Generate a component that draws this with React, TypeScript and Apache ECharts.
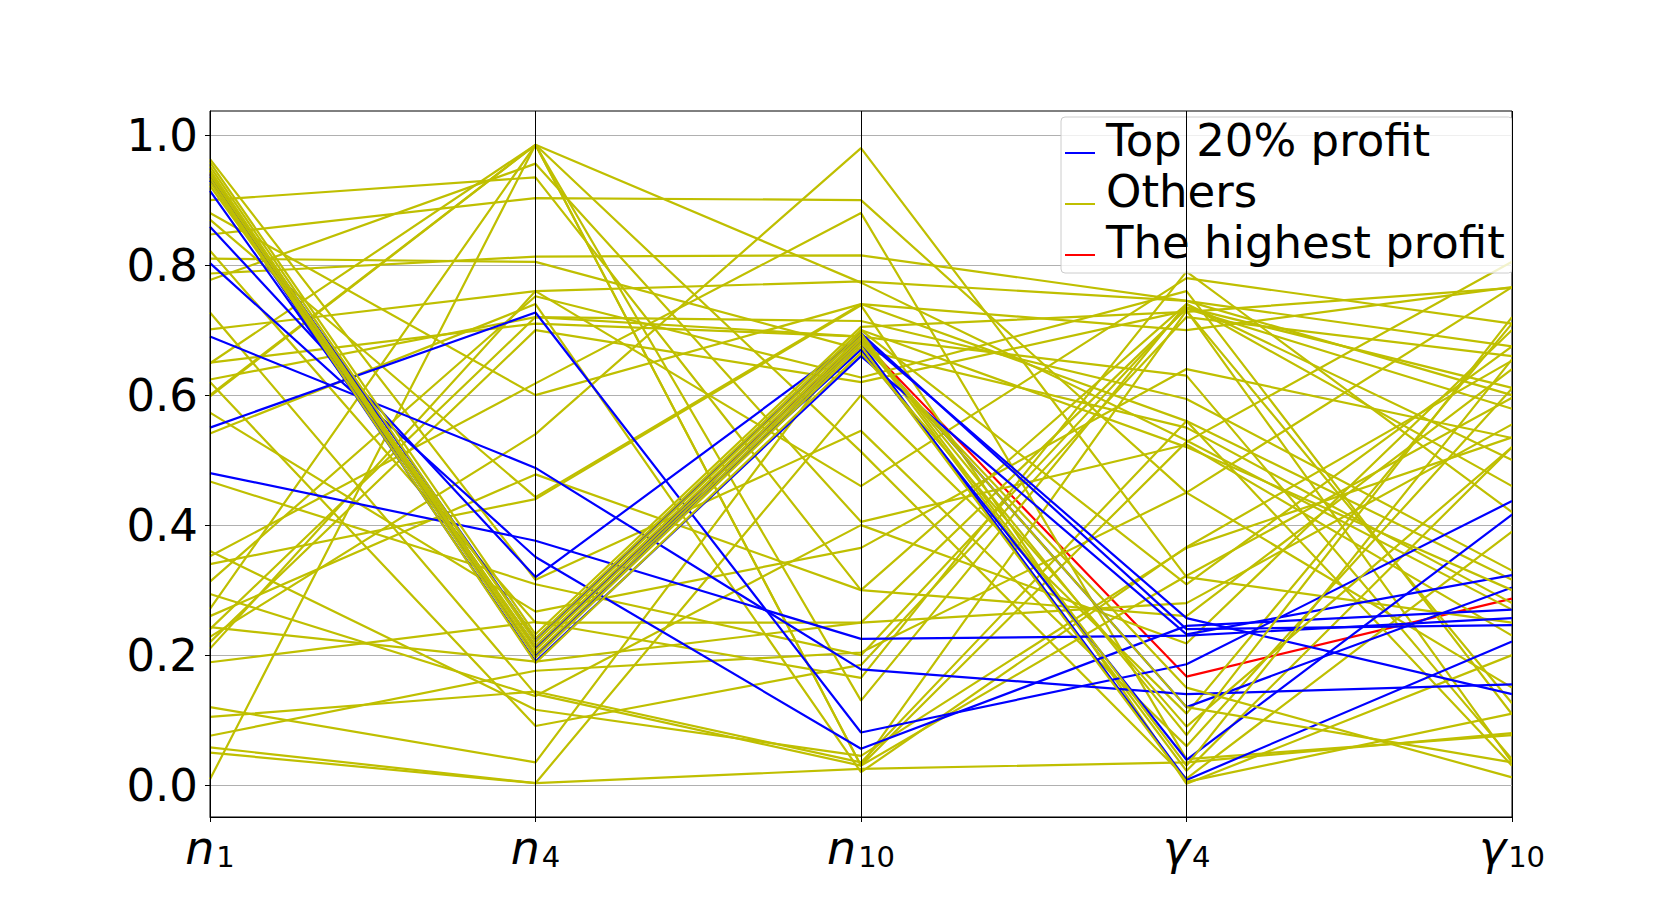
import { useEffect, useRef } from "react";
import * as echarts from "echarts";

const categories = ["n1", "n4", "n10", "g4", "g10"];
const yTicks = [0, 0.2, 0.4, 0.6, 0.8, 1.0];

// "Others" lines: values at each axis (same index = same line)
const otherN1 = [0.963, 0.9, 0.87, 0.847, 0.822, 0.787, 0.777, 0.727, 0.701, 0.649, 0.624, 0.598, 0.573, 0.541, 0.467, 0.352, 0.313, 0.294, 0.271, 0.243, 0.228, 0.22, 0.189, 0.12, 0.105, 0.076, 0.058, 0.009, 0.34, 0.26, 0.62, 0.65, 0.81, 0.6, 0.21, 0.36, 0.05, 0.88, 0.24];
const otherN4 = [0.316, 0.935, 0.443, 0.903, 0.25, 0.813, 0.956, 0.14, 0.76, 0.985, 0.72, 0.985, 0.267, 0.74, 0.309, 0.618, 0.752, 0.137, 0.985, 0.19, 0.54, 0.7, 0.251, 0.035, 0.144, 0.176, 0.003, 0.985, 0.44, 0.478, 0.091, 0.71, 0.805, 0.985, 0.76, 0.116, 0.003, 0.6, 0.72];
const otherN10 = [0.545, 0.3, 0.74, 0.9, 0.25, 0.815, 0.405, 0.03, 0.46, 0.03, 0.714, 0.513, 0.365, 0.02, 0.2, 0.88, 0.627, 0.4, 0.773, 0.25, 0.98, 0.62, 0.165, 0.7, 0.035, 0.204, 0.6, 0.03, 0.738, 0.3, 0.185, 0.69, 0.67, 0.13, 0.775, 0.045, 0.025, 0.74, 0.69];
const otherG4 = [0.06, 0.74, 0.56, 0.45, 0.733, 0.745, 0.524, 0.73, 0.78, 0.322, 0.594, 0.01, 0.64, 0.366, 0.735, 0.04, 0.76, 0.218, 0.53, 0.28, 0.32, 0.73, 0.79, 0.309, 0.56, 0.45, 0.11, 0.528, 0.002, 0.26, 0.72, 0.022, 0.55, 0.74, 0.745, 0.365, 0.035, 0.7, 0.63];
const otherG10 = [0.61, 0.5, 0.03, 0.766, 0.579, 0.675, 0.23, 0.126, 0.71, 0.596, 0.33, 0.39, 0.534, 0.653, 0.611, 0.077, 0.109, 0.7, 0.27, 0.555, 0.25, 0.035, 0.42, 0.675, 0.316, 0.15, 0.71, 0.805, 0.2, 0.64, 0.66, 0.52, 0.28, 0.46, 0.6, 0.535, 0.08, 0.766, 0.04];

// "Others" bundle running from n1 ~0.94 down to n4 ~0.2 and up to n10 ~0.68
const bundleN1 = [0.958, 0.952, 0.946, 0.94, 0.934, 0.928, 0.922, 0.945];
const bundleN4 = [0.232, 0.22, 0.208, 0.196, 0.188, 0.214, 0.226, 0.202];
const bundleN10 = [0.705, 0.695, 0.685, 0.675, 0.665, 0.69, 0.7, 0.68];
const bundleG4 = [0.728, 0.03, 0.12, 0.005, 0.09, 0.077, 0.52, 0.15];
const bundleG10 = [0.765, 0.655, 0.035, 0.11, 0.52, 0.72, 0.3, 0.012];

// "Top 20% profit" lines
const topN1 = [0.55, 0.69, 0.48, 0.803, 0.859, 0.914, 0.935, 0.94, 0.93, 0.94];
const topN4 = [0.727, 0.488, 0.376, 0.351, 0.32, 0.214, 0.2, 0.225, 0.19, 0.21];
const topN10 = [0.081, 0.178, 0.225, 0.056, 0.69, 0.67, 0.68, 0.695, 0.66, 0.685];
const topG4 = [0.186, 0.14, 0.23, 0.245, 0.257, 0.039, 0.008, 0.24, 0.232, 0.12];
const topG10 = [0.437, 0.155, 0.257, 0.27, 0.14, 0.416, 0.221, 0.246, 0.323, 0.304];

// "The highest profit" line
const bestLine = [0.94, 0.21, 0.685, 0.167, 0.287];

const YELLOW = "#bfbf00";
const BLUE = "#0000ff";
const RED = "#ff0000";
const FONT = "DejaVu Sans";

const axisNames: Record<string, string> = {
  n1: "{i|n}{s|1}",
  n4: "{i|n}{s|4}",
  n10: "{i|n}{s|10}",
  g4: "{i|\u03b3}{s|4}",
  g10: "{i|\u03b3}{s|10}",
};

function lineSeries(name: string, color: string, values: number[], z = 2) {
  return {
    type: "line",
    name,
    color,
    data: values,
    symbol: "none",
    silent: true,
    z,
    lineStyle: { color, width: 2.2 },
  };
}

export default function App() {
  const ref = useRef<HTMLDivElement>(null);

  useEffect(() => {
    if (!ref.current) return;
    const chart = echarts.init(ref.current, null, { renderer: "svg" });

    const series: any[] = [];
    series.push(lineSeries("The highest profit", RED, bestLine));
    otherN1.forEach((_, i) => {
      series.push(
        lineSeries("Others", YELLOW, [otherN1[i], otherN4[i], otherN10[i], otherG4[i], otherG10[i]])
      );
    });
    topN1.forEach((_, i) => {
      series.push(
        lineSeries("Top 20% profit", BLUE, [topN1[i], topN4[i], topN10[i], topG4[i], topG10[i]])
      );
    });
    bundleN1.forEach((_, i) => {
      series.push(
        lineSeries("Others", YELLOW, [bundleN1[i], bundleN4[i], bundleN10[i], bundleG4[i], bundleG10[i]])
      );
    });
    // black vertical axis lines drawn above the data lines
    series.push({
      type: "line",
      name: "axes",
      data: [],
      silent: true,
      z: 3,
      markLine: {
        silent: true,
        symbol: "none",
        label: { show: false },
        lineStyle: { color: "#000", width: 1, type: "solid" },
        data: categories.map((c) => ({ xAxis: c })),
      },
    });

    chart.setOption({
      animation: false,
      backgroundColor: "#ffffff",
      grid: {
        left: 210,
        right: 168,
        top: 111,
        bottom: 100,
        show: true,
        borderColor: "#000",
        borderWidth: 1,
        backgroundColor: "transparent",
      },
      legend: {
        data: ["Top 20% profit", "Others", "The highest profit"],
        orient: "vertical",
        left: 1061,
        top: 117,
        padding: [1, 7, 8, 4],
        itemGap: 6,
        itemWidth: 30,
        itemHeight: 2,
        icon: "rect",
        selectedMode: false,
        backgroundColor: "rgba(255,255,255,0.8)",
        borderColor: "#cccccc",
        borderWidth: 1,
        borderRadius: 4,
        z: 5,
        formatter: (name: string) => `{a|${name}}{b| }`,
        textStyle: {
          fontFamily: FONT,
          fontSize: 45,
          color: "#000",
          rich: {
            a: {
              fontFamily: FONT,
              fontSize: 45,
              color: "#000",
              lineHeight: 50,
              verticalAlign: "top",
              padding: [0, 0, 0, 6],
            },
            b: {
              fontFamily: FONT,
              fontSize: 2,
              lineHeight: 70,
              verticalAlign: "middle",
            },
          },
        },
      },
      xAxis: {
        type: "category",
        data: categories,
        boundaryGap: false,
        axisLine: { show: true, onZero: false, lineStyle: { color: "#000", width: 1 } },
        axisTick: { show: true, length: 5, alignWithLabel: true, lineStyle: { color: "#000" } },
        splitLine: { show: false },
        axisLabel: {
          interval: 0,
          margin: 2,
          formatter: (v: string) => axisNames[v] || v,
          rich: {
            i: {
              fontFamily: FONT,
              fontStyle: "italic",
              fontSize: 46,
              color: "#000",
              lineHeight: 52,
              verticalAlign: "bottom",
            },
            s: {
              fontFamily: FONT,
              fontSize: 29,
              color: "#000",
              lineHeight: 16,
              verticalAlign: "bottom",
              padding: [0, 0, 0, 2],
            },
          },
        },
      },
      yAxis: {
        type: "value",
        min: -0.049,
        max: 1.037,
        axisLine: { show: true, lineStyle: { color: "#000", width: 1 } },
        axisTick: { show: true, length: 5, lineStyle: { color: "#000" }, customValues: yTicks },
        axisLabel: {
          margin: 12,
          fontFamily: FONT,
          fontSize: 45,
          color: "#000",
          customValues: yTicks,
          formatter: (v: number) =>
            Math.abs(v * 5 - Math.round(v * 5)) < 1e-6 ? Math.abs(v).toFixed(1) : "",
        },
        splitLine: { show: true, lineStyle: { color: "#b0b0b0", width: 1 } },
      },
      series,
    });

    return () => chart.dispose();
  }, []);

  return (
    <div
      ref={ref}
      style={{ position: "absolute", left: 0, top: 0, width: 1680, height: 917, background: "#fff" }}
    />
  );
}
